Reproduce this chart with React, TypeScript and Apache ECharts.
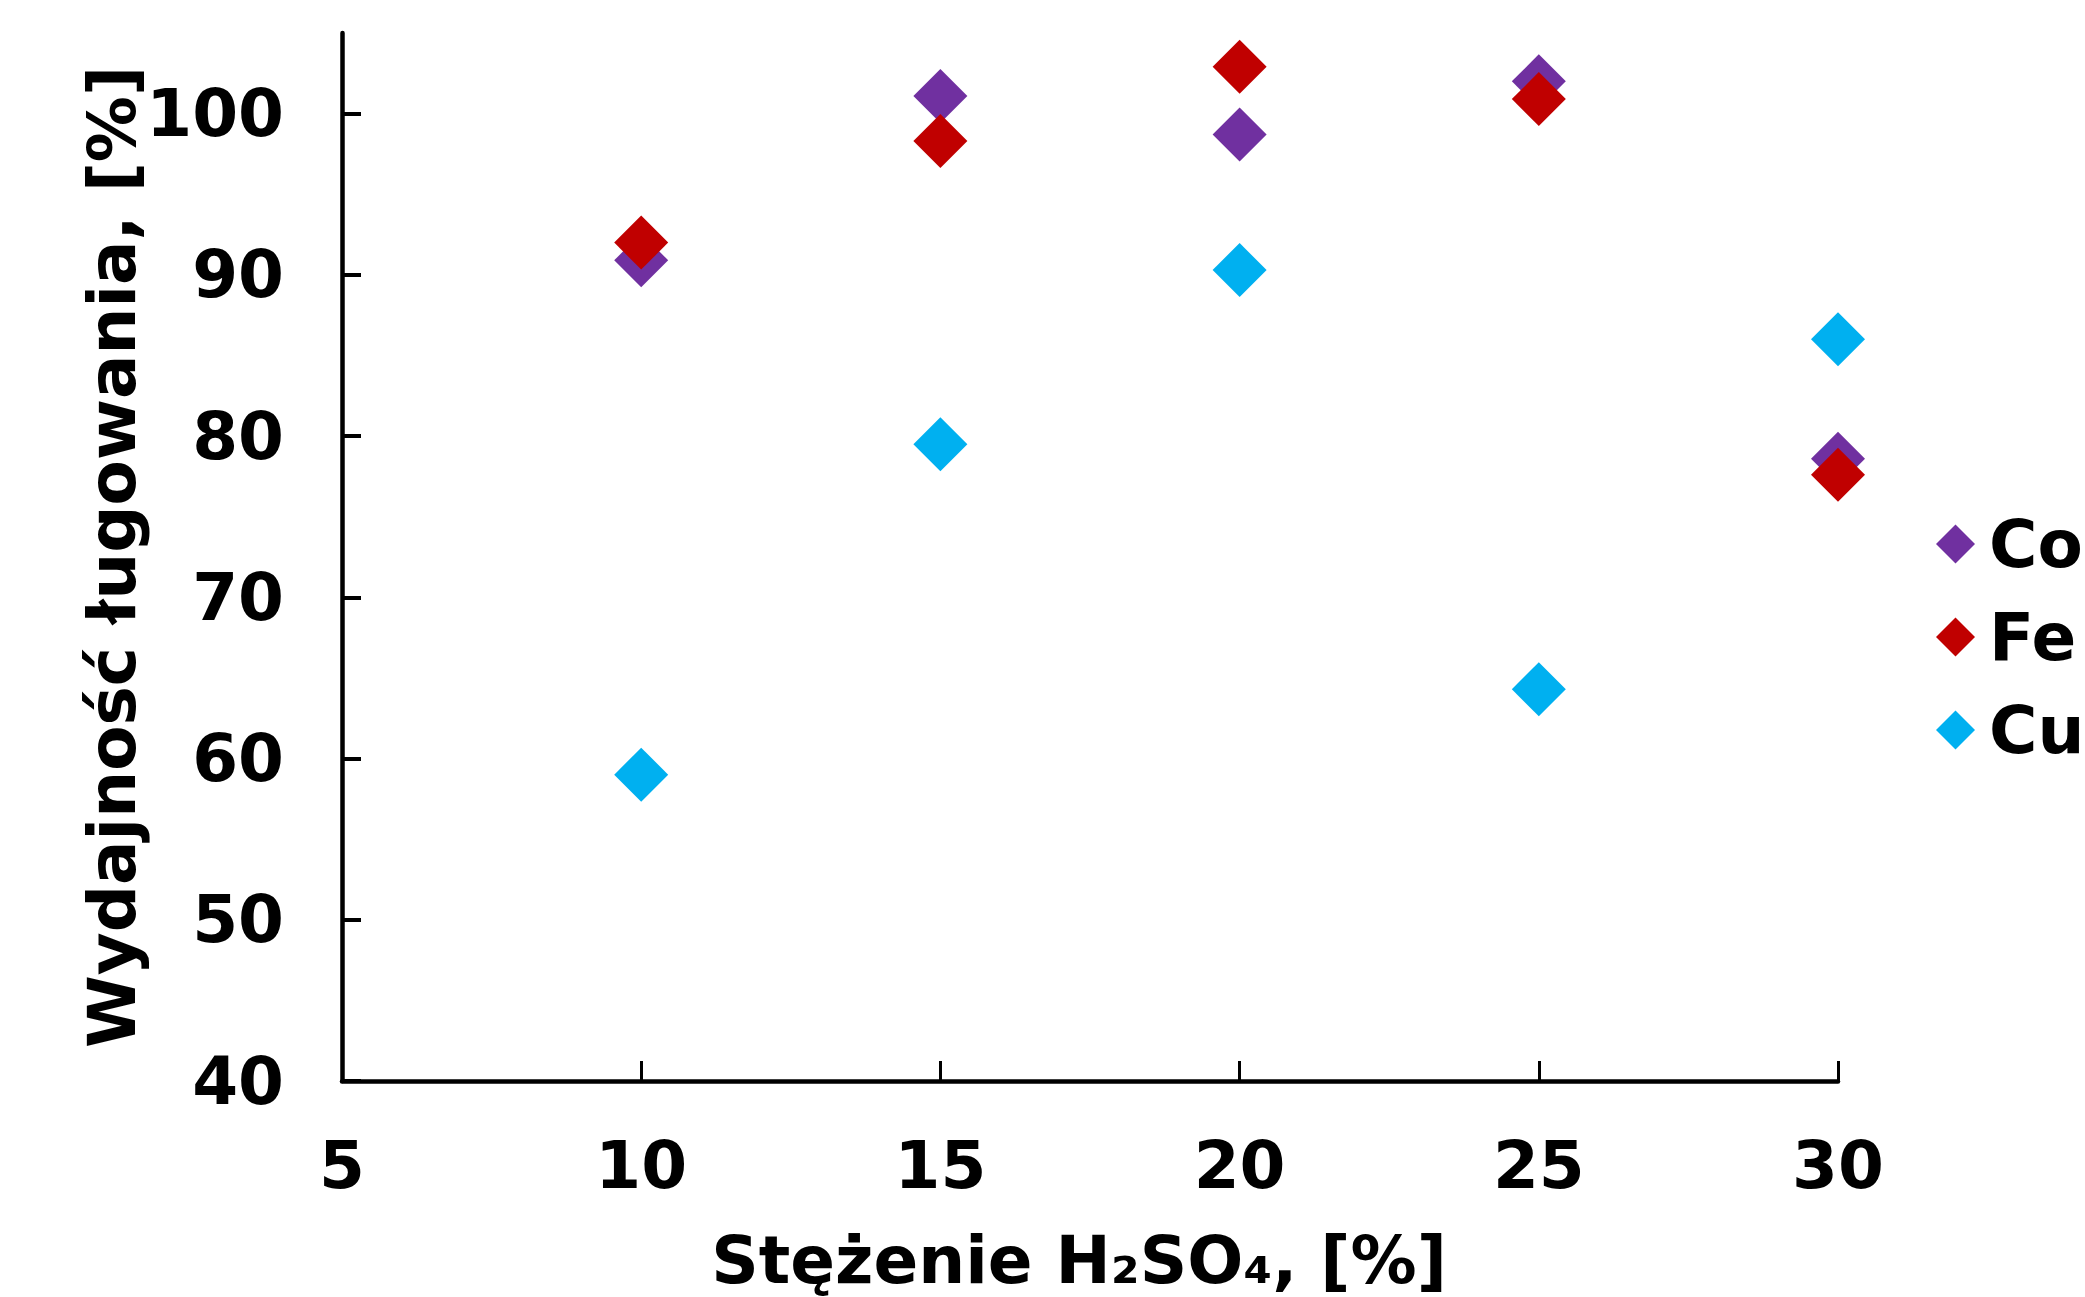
import React, { useEffect, useRef } from "react";
import * as echarts from "echarts";

const xValues = [10, 15, 20, 25, 30];
const coValues = [90.9, 101.1, 98.7, 102.0, 78.6];
const feValues = [92.0, 98.3, 102.9, 100.9, 77.6];
const cuValues = [59.0, 79.5, 90.3, 64.3, 86.0];
const yTicks = [40, 50, 60, 70, 80, 90, 100];
const xTicks = [5, 10, 15, 20, 25, 30];
const seriesNames = ["Co", "Fe", "Cu"];
const seriesColors = ["#7030A0", "#C00000", "#00B0F0"];

const FONT = "DejaVu Sans";

export default function App() {
  const ref = useRef<HTMLDivElement>(null);
  useEffect(() => {
    if (!ref.current) return;
    const chart = echarts.init(ref.current, null, { renderer: "svg" });
    const allValues = [coValues, feValues, cuValues];
    const textBase = { fontFamily: FONT, fontWeight: "bold" as const, fontSize: 66, color: "#000" };
    chart.setOption({
      animation: false,
      backgroundColor: "#fff",
      grid: { left: 342, right: 247, top: 33, bottom: 216, containLabel: false, outerBoundsMode: "none" },
      legend: {
        orient: "vertical",
        left: 1936,
        top: 511,
        padding: 0,
        itemWidth: 39,
        itemHeight: 39,
        itemGap: 27,
        icon: "diamond",
        textStyle: { ...textBase, padding: [0, 0, 0, 9] },
        data: seriesNames,
      },
      xAxis: {
        type: "value",
        min: 5,
        max: 30,
        interval: 5,
        name: "Stężenie H₂SO₄, [%]",
        nameLocation: "middle",
        nameGap: 146,
        nameMoveOverlap: false,
        nameTextStyle: { ...textBase, padding: [0, 22, 0, 0] },
        axisLine: { show: true, lineStyle: { color: "#000", width: 4.5 } },
        axisTick: { show: true, inside: true, length: 20, lineStyle: { color: "#000", width: 3 }, customValues: xTicks },
        axisLabel: { ...textBase, margin: 51, customValues: xTicks },
        splitLine: { show: false },
      },
      yAxis: {
        type: "value",
        min: 40,
        max: 105,
        interval: 10,
        name: "Wydajność ługowania, [%]",
        nameLocation: "middle",
        nameGap: 197,
        nameMoveOverlap: false,
        nameTextStyle: { ...textBase },
        axisLine: { show: true, lineStyle: { color: "#000", width: 4.5 } },
        axisTick: { show: true, inside: true, length: 19, lineStyle: { color: "#000", width: 4 }, customValues: yTicks },
        axisLabel: { ...textBase, margin: 58, customValues: yTicks },
        splitLine: { show: false },
      },
      series: seriesNames.map((name, i) => ({
        name,
        type: "scatter",
        symbol: "diamond",
        symbolSize: 54,
        itemStyle: { color: seriesColors[i], opacity: 1 },
        data: xValues.map((x, j) => [x, allValues[i][j]]),
      })),
    });
    return () => chart.dispose();
  }, []);
  return (
    <div
      ref={ref}
      style={{ position: "absolute", left: 0, top: 0, width: 2085, height: 1297, background: "#fff" }}
    />
  );
}
